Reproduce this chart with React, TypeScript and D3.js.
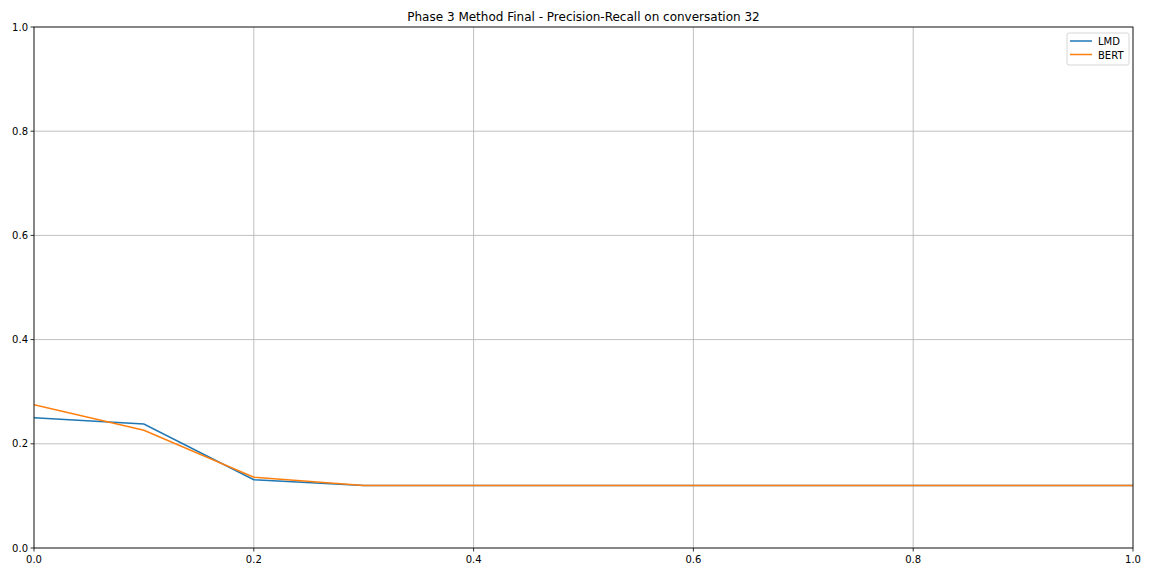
import React from "react";
import * as d3 from "d3";

const recall = [0.0, 0.1, 0.2, 0.3, 0.4, 0.5, 0.6, 0.7, 0.8, 0.9, 1.0];
const lmd = [0.25, 0.238, 0.131, 0.12, 0.12, 0.12, 0.12, 0.12, 0.12, 0.12, 0.12];
const bert = [0.275, 0.226, 0.136, 0.12, 0.12, 0.12, 0.12, 0.12, 0.12, 0.12, 0.12];
const xTicks = [0.0, 0.2, 0.4, 0.6, 0.8, 1.0];
const yTicks = [0.0, 0.2, 0.4, 0.6, 0.8, 1.0];
const seriesNames = ["LMD", "BERT"];
const colors = ["#1f77b4", "#ff7f0e"];
const title = "Phase 3 Method Final - Precision-Recall on conversation 32";

export default function App() {
  const W = 1152, H = 576;
  const left = 34, right = 1133, top = 27, bottom = 548;
  const x = d3.scaleLinear().domain([0, 1]).range([left, right]);
  const y = d3.scaleLinear().domain([0, 1]).range([bottom, top]);
  const line = d3.line<number>().x((_, i) => x(recall[i])).y((d) => y(d));
  const series = [lmd, bert];
  const font = "DejaVu Sans, sans-serif";
  return (
    <svg width={W} height={H} style={{ position: "absolute", left: 0, top: 0, background: "#fff" }} fontFamily={font}>
      <rect x={0} y={0} width={W} height={H} fill="#fff" />
      {xTicks.map((t) => (
        <line key={"gx" + t} x1={x(t)} x2={x(t)} y1={top} y2={bottom} stroke="#b0b0b0" strokeWidth={0.8} />
      ))}
      {yTicks.map((t) => (
        <line key={"gy" + t} x1={left} x2={right} y1={y(t)} y2={y(t)} stroke="#b0b0b0" strokeWidth={0.8} />
      ))}
      <defs>
        <clipPath id="clip">
          <rect x={left} y={top} width={right - left} height={bottom - top} />
        </clipPath>
      </defs>
      <g clipPath="url(#clip)">
        {series.map((s, i) => (
          <path key={i} d={line(s) || ""} fill="none" stroke={colors[i]} strokeWidth={1.5} />
        ))}
      </g>
      <rect x={left} y={top} width={right - left} height={bottom - top} fill="none" stroke="#000" strokeWidth={0.8} />
      {xTicks.map((t) => (
        <g key={"tx" + t}>
          <line x1={x(t)} x2={x(t)} y1={bottom} y2={bottom + 3.5} stroke="#000" strokeWidth={0.8} />
          <text x={x(t)} y={bottom + 15} fontSize={10} textAnchor="middle" fill="#000">{t.toFixed(1)}</text>
        </g>
      ))}
      {yTicks.map((t) => (
        <g key={"ty" + t}>
          <line x1={left - 3.5} x2={left} y1={y(t)} y2={y(t)} stroke="#000" strokeWidth={0.8} />
          <text x={left - 6} y={y(t) + 3.5} fontSize={10} textAnchor="end" fill="#000">{t.toFixed(1)}</text>
        </g>
      ))}
      <text x={(left + right) / 2} y={21} fontSize={12} textAnchor="middle" fill="#000">{title}</text>
      <g>
        <rect x={1067} y={33} width={62} height={32} rx={2} fill="#fff" fillOpacity={0.8} stroke="#cccccc" strokeWidth={0.8} />
        {seriesNames.map((n, i) => (
          <g key={n}>
            <line x1={1070} x2={1092} y1={41 + i * 13.5} y2={41 + i * 13.5} stroke={colors[i]} strokeWidth={1.5} />
            <text x={1098} y={45 + i * 13.5} fontSize={10} fill="#000">{n}</text>
          </g>
        ))}
      </g>
    </svg>
  );
}
